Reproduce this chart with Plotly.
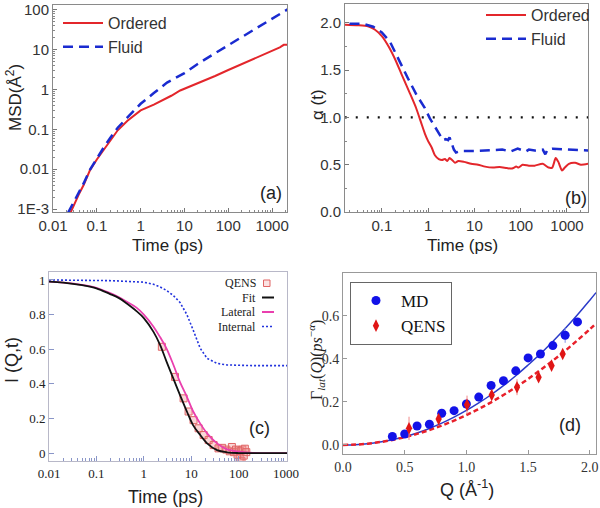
import plotly.graph_objects as go

W, H = 600, 508

# ---------------- Panel (a): MSD vs time ----------------
t_ord_a = [0.025, 0.03, 0.04, 0.05, 0.07, 0.1, 0.15, 0.2, 0.3, 0.5, 0.7, 1, 2, 3, 5, 8,
           10, 20, 50, 100, 190, 500, 1000, 1500, 1850, 2300]
msd_ord = [0.0008, 0.0013, 0.0025, 0.004, 0.0095, 0.0175, 0.033, 0.051, 0.095, 0.165, 0.22,
           0.3, 0.42, 0.52, 0.7, 0.95, 1.05, 1.45, 2.2, 3.1, 4.2, 6.8, 9.3, 11.5, 13.3, 13.4]
t_flu_a = [0.022, 0.03, 0.04, 0.05, 0.07, 0.1, 0.15, 0.2, 0.3, 0.5, 0.7, 1, 2, 4, 10, 20,
           50, 100, 200, 500, 1000, 2000, 2300]
msd_flu = [0.0008, 0.0015, 0.0028, 0.0044, 0.0098, 0.019, 0.038, 0.06, 0.11, 0.2, 0.3, 0.44,
           0.82, 1.5, 2.6, 4.4, 8.2, 13, 20, 37, 58, 92, 105]

# ---------------- Panel (b): alpha(t) ----------------
t_ord_b = [0.016, 0.03, 0.05, 0.07, 0.1, 0.14, 0.2, 0.27, 0.4, 0.55, 0.7, 0.85, 1.0, 1.2,
           1.4, 1.7, 2.0, 2.3, 2.6, 2.9, 3.3, 3.8, 4.5, 6, 8.5, 12, 17, 25, 35, 50, 65, 80,
           90, 110, 150, 200, 300, 400, 480, 570, 650, 780, 900, 1100, 1500, 2000, 2900]
a_ord = [1.98, 1.975, 1.965, 1.93, 1.86, 1.75, 1.6, 1.45, 1.26, 1.1, 0.95, 0.83, 0.75, 0.68,
         0.6, 0.56, 0.55, 0.56, 0.54, 0.57, 0.55, 0.52, 0.54, 0.53, 0.51, 0.5, 0.48, 0.47,
         0.475, 0.465, 0.46, 0.48, 0.47, 0.5, 0.49, 0.49, 0.51, 0.47, 0.47, 0.57, 0.53, 0.44,
         0.47, 0.51, 0.52, 0.5, 0.51]
t_flu_b = [0.02, 0.04, 0.065, 0.1, 0.15, 0.24, 0.37, 0.56, 0.85, 1.09, 1.4, 1.64, 2.1, 2.4,
           2.7, 2.9, 3.2, 3.6, 4.0, 5, 10, 20, 40, 60, 86, 130, 150, 200, 300, 340, 380, 500,
           800, 1500, 2900]
a_flu = [1.99, 1.99, 1.96, 1.9, 1.8, 1.59, 1.41, 1.24, 1.1, 0.99, 0.9, 0.85, 0.76, 0.77,
         0.76, 0.79, 0.74, 0.66, 0.63, 0.645, 0.645, 0.65, 0.66, 0.64, 0.67, 0.64, 0.66, 0.65,
         0.66, 0.61, 0.66, 0.67, 0.665, 0.655, 0.65]
ref_t = [0.0158, 2900]
ref_a = [1.0, 1.0]

# ---------------- Panel (c): I(Q,t) ----------------
t_c = [0.01, 0.02, 0.05, 0.1, 0.19, 0.3, 0.43, 0.7, 1.0, 1.6, 2.2, 3.0, 4.2, 5.8, 8.1, 11,
       15.5, 21.6, 35, 57, 100, 200, 1000, 1050]
fit_c = [0.99, 0.985, 0.97, 0.952, 0.92, 0.895, 0.865, 0.82, 0.78, 0.70, 0.625, 0.53, 0.43,
         0.335, 0.24, 0.16, 0.104, 0.056, 0.017, 0.004, 0.0, 0.0, 0.0, 0.0]
lat_c = [0.99, 0.985, 0.972, 0.955, 0.925, 0.90, 0.875, 0.84, 0.80, 0.73, 0.67, 0.605, 0.51,
         0.41, 0.325, 0.24, 0.17, 0.114, 0.056, 0.021, 0.008, 0.001, 0.0, 0.0]
int_c = [1.0, 1.0, 0.999, 0.998, 0.996, 0.994, 0.992, 0.99, 0.987, 0.975, 0.96, 0.94, 0.91,
         0.87, 0.80, 0.71, 0.605, 0.547, 0.518, 0.509, 0.506, 0.505, 0.505, 0.505]
qens_t = [2.4, 4.55, 6.9, 8.8, 11.2, 14.3, 18.3, 23.3, 29.7, 37.6, 45, 55, 65, 72, 80, 88,
          95, 100, 105, 110, 115, 120, 128, 135, 145]
qens_I = [0.614, 0.44, 0.316, 0.24, 0.19, 0.143, 0.104, 0.075, 0.046, 0.027, 0.03, 0.02,
          0.01, 0.035, 0.005, 0.02, -0.01, 0.015, -0.03, 0.01, -0.045, 0.02, -0.015, 0.025,
          0.005]

# ---------------- Panel (d): Gamma_lat(Q) ----------------
q_md = [0.4, 0.5, 0.6, 0.7, 0.8, 0.9, 1.0, 1.1, 1.2, 1.3, 1.4, 1.5, 1.6, 1.7, 1.8, 1.9]
g_md = [0.039, 0.051, 0.088, 0.096, 0.147, 0.159, 0.19, 0.222, 0.276, 0.298, 0.344, 0.404,
        0.422, 0.461, 0.509, 0.571]
e_md = [0.008, 0.01, 0.006, 0.008, 0.02, 0.008, 0.01, 0.02, 0.01, 0.008, 0.01, 0.008, 0.01,
        0.01, 0.035, 0.01]
q_qe = [0.535, 0.775, 1.005, 1.205, 1.41, 1.585, 1.69, 1.78]
g_qe = [0.077, 0.12, 0.186, 0.232, 0.268, 0.314, 0.368, 0.422]
e_qe = [0.054, 0.02, 0.043, 0.025, 0.037, 0.02, 0.015, 0.015]
q_fit = [0.0, 0.1, 0.2, 0.3, 0.4, 0.5, 0.6, 0.7, 0.8, 0.9, 1.0, 1.1, 1.2, 1.3, 1.4, 1.5, 1.6,
         1.7, 1.8, 1.9, 2.0, 2.05]
g_fit_md = [0.0, 0.0014, 0.0057, 0.0132, 0.024, 0.038, 0.0556, 0.0765, 0.101, 0.129, 0.16,
            0.195, 0.233, 0.275, 0.321, 0.371, 0.423, 0.48, 0.54, 0.604, 0.672, 0.707]
g_fit_qe = [0.0, 0.0016, 0.006, 0.0133, 0.0233, 0.036, 0.0513, 0.0694, 0.09, 0.113, 0.139,
            0.167, 0.198, 0.232, 0.268, 0.306, 0.348, 0.391, 0.437, 0.486, 0.537, 0.564]

RED = "#e3262b"
BLUE = "#1a2bd0"
SANS = "Liberation Sans, Arial, sans-serif"
SERIF = "Liberation Serif, Times New Roman, serif"

fig = go.Figure()

# (a)
fig.add_trace(go.Scatter(x=t_ord_a, y=msd_ord, mode="lines", name="Ordered",
                         line=dict(color=RED, width=2), xaxis="x", yaxis="y", legend="legend"))
fig.add_trace(go.Scatter(x=t_flu_a, y=msd_flu, mode="lines", name="Fluid",
                         line=dict(color=BLUE, width=2.5, dash="10px,6px"),
                         xaxis="x", yaxis="y", legend="legend"))
# (b)
fig.add_trace(go.Scatter(x=ref_t, y=ref_a, mode="lines", showlegend=False,
                         line=dict(color="#111", width=2.2, dash="2px,9px"),
                         xaxis="x2", yaxis="y2"))
fig.add_trace(go.Scatter(x=t_ord_b, y=a_ord, mode="lines", name="Ordered",
                         line=dict(color=RED, width=2, shape="spline", smoothing=0.6),
                         xaxis="x2", yaxis="y2", legend="legend2"))
fig.add_trace(go.Scatter(x=t_flu_b, y=a_flu, mode="lines", name="Fluid",
                         line=dict(color=BLUE, width=2.5, dash="10px,6px"),
                         xaxis="x2", yaxis="y2", legend="legend2"))
# (c)
fig.add_trace(go.Scatter(x=qens_t, y=qens_I, mode="markers", showlegend=False,
                         marker=dict(symbol="square", size=7, color="rgba(240,140,140,0.35)",
                                     line=dict(color="#e06565", width=1)),
                         xaxis="x3", yaxis="y3"))
fig.add_trace(go.Scatter(x=t_c, y=int_c, mode="lines", showlegend=False,
                         line=dict(color="#2233dd", width=1.6, dash="2px,2px"),
                         xaxis="x3", yaxis="y3"))
fig.add_trace(go.Scatter(x=t_c, y=lat_c, mode="lines", showlegend=False,
                         line=dict(color="#ea3fae", width=1.8, shape="spline"),
                         xaxis="x3", yaxis="y3"))
fig.add_trace(go.Scatter(x=t_c, y=fit_c, mode="lines", showlegend=False,
                         line=dict(color="#111111", width=1.8, shape="spline"),
                         xaxis="x3", yaxis="y3"))
# (d)
fig.add_trace(go.Scatter(x=q_fit, y=g_fit_md, mode="lines", showlegend=False,
                         line=dict(color="#2a3ac8", width=1.5, shape="spline"),
                         xaxis="x4", yaxis="y4"))
fig.add_trace(go.Scatter(x=q_fit, y=g_fit_qe, mode="lines", showlegend=False,
                         line=dict(color="#e8202a", width=2.5, dash="5px,3px", shape="spline"),
                         xaxis="x4", yaxis="y4"))
fig.add_trace(go.Scatter(x=q_md, y=g_md, mode="markers", name="MD",
                         marker=dict(symbol="circle", size=9, color="#1212e8"),
                         error_y=dict(type="data", array=e_md, color="#8090e8", thickness=1, width=0),
                         xaxis="x4", yaxis="y4", legend="legend3"))
fig.add_trace(go.Scatter(x=q_qe, y=g_qe, mode="markers", name="QENS",
                         marker=dict(symbol="diamond-tall", size=9, color="#e01515"),
                         error_y=dict(type="data", array=e_qe, color="#f08a8a", thickness=1, width=0),
                         xaxis="x4", yaxis="y4", legend="legend3"))


def dx(a, b):
    return [a / W, b / W]


def dy(top, bottom):
    return [1 - bottom / H, 1 - top / H]


def minor_log(lo, hi):
    return [k * 10 ** e for e in range(lo, hi) for k in range(2, 10)]


ax_common = dict(showline=True, mirror=True, linewidth=1, showgrid=False, zeroline=False,
                 ticks="inside", automargin=False)

fig.update_layout(
    width=W, height=H, margin=dict(l=0, r=0, t=0, b=0, autoexpand=False),
    paper_bgcolor="white", plot_bgcolor="white",
    xaxis=dict(domain=dx(53, 287), type="log", range=[-2, 3.34], anchor="y",
               tickvals=[0.01, 0.1, 1, 10, 100, 1000],
               ticktext=["0.01", "0.1", "1", "10", "100", "1000"],
               linecolor="#8a8a8a", tickcolor="#777", ticklen=4,
               tickfont=dict(family=SANS, size=15, color="#333"),
               minor=dict(tickvals=minor_log(-2, 4), ticks="inside", ticklen=2, tickcolor="#888"),
               **ax_common),
    yaxis=dict(domain=dy(5, 212), type="log", range=[-3.075, 2.125], anchor="x",
               tickvals=[0.001, 0.01, 0.1, 1, 10, 100],
               ticktext=["1E-3", "0.01", "0.1", "1", "10", "100"],
               linecolor="#8a8a8a", tickcolor="#777", ticklen=4,
               tickfont=dict(family=SANS, size=15, color="#333"),
               minor=dict(tickvals=minor_log(-3, 3), ticks="inside", ticklen=2, tickcolor="#888"),
               **ax_common),
    xaxis2=dict(domain=dx(345, 588), type="log", range=[-1.796, 3.454], anchor="y2",
                tickvals=[0.1, 1, 10, 100, 1000],
                ticktext=["0.1", "1", "10", "100", "1000"],
                linecolor="#8a8a8a", tickcolor="#777", ticklen=4,
                tickfont=dict(family=SANS, size=15, color="#333"),
                minor=dict(tickvals=minor_log(-2, 4), ticks="inside", ticklen=2, tickcolor="#888"),
                **ax_common),
    yaxis2=dict(domain=dy(4, 212), range=[0, 2.2], anchor="x2",
                tickvals=[0.0, 0.5, 1.0, 1.5, 2.0], tickformat=".1f",
                linecolor="#8a8a8a", tickcolor="#777", ticklen=4,
                tickfont=dict(family=SANS, size=15, color="#333"),
                minor=dict(dtick=0.25, ticks="inside", ticklen=2, tickcolor="#888"),
                **ax_common),
    xaxis3=dict(domain=dx(49, 287), type="log", range=[-2, 3.02], anchor="y3",
                tickvals=[0.01, 0.1, 1, 10, 100, 1000],
                ticktext=["0.01", "0.1", "1", "10", "100", "1000"],
                linecolor="#b8b8c8", tickcolor="#8a96c8", ticklen=5,
                tickfont=dict(family=SERIF, size=13, color="#222"),
                minor=dict(tickvals=minor_log(-2, 4), ticks="inside", ticklen=3, tickcolor="#8a96c8"),
                **ax_common),
    yaxis3=dict(domain=dy(272, 461), range=[-0.046, 1.046], anchor="x3",
                tickvals=[0, 0.2, 0.4, 0.6, 0.8, 1],
                linecolor="#b8b8c8", tickcolor="#8a96c8", ticklen=5,
                tickfont=dict(family=SERIF, size=13, color="#222"),
                **ax_common),
    xaxis4=dict(domain=dx(343, 596), range=[0, 2.05], anchor="y4",
                tickvals=[0.0, 0.5, 1.0, 1.5, 2.0], tickformat=".1f",
                linecolor="#999", tickcolor="#999", ticklen=4,
                tickfont=dict(family=SERIF, size=14, color="#333"),
                **ax_common),
    yaxis4=dict(domain=dy(273, 454), range=[-0.042, 0.798], anchor="x4",
                tickvals=[0.0, 0.2, 0.4, 0.6], tickformat=".1f",
                linecolor="#999", tickcolor="#999", ticklen=4,
                tickfont=dict(family=SERIF, size=14, color="#333"),
                **ax_common),
    legend=dict(x=58 / W, y=1 - 6 / H, xanchor="left", yanchor="top",
                bgcolor="rgba(0,0,0,0)", font=dict(family=SANS, size=16, color="#333"),
                itemwidth=40, tracegroupgap=0),
    legend2=dict(x=481 / W, y=1 + 2 / H, xanchor="left", yanchor="top",
                 bgcolor="rgba(0,0,0,0)", font=dict(family=SANS, size=16, color="#333"),
                 itemwidth=40, tracegroupgap=0),
    legend3=dict(x=350 / W, y=1 - 282 / H, xanchor="left", yanchor="top",
                 bgcolor="white", bordercolor="#666", borderwidth=1,
                 font=dict(family=SERIF, size=17, color="#111"),
                 itemwidth=40, tracegroupgap=0),
    showlegend=True,
)


def ann(text, xpx, ypx, size=17, family=SANS, angle=0, color="#222", xanchor="center"):
    fig.add_annotation(text=text, x=xpx / W, y=1 - ypx / H, xref="paper", yref="paper",
                       showarrow=False, textangle=angle, xanchor=xanchor, yanchor="middle",
                       borderpad=0, font=dict(family=family, size=size, color=color))


# axis titles
ann("MSD(Å<sup>2</sup>)", 14, 98, size=17, angle=-90)
ann("Time (ps)", 167, 245, size=17)
ann("α (t)", 318, 105, size=17, angle=-90)
ann("Time (ps)", 463, 245, size=17)
ann("I (Q,t)", 12, 360, size=18, angle=-90)
ann("Time (ps)", 165, 497, size=18)
ann("Γ<sub><i>lat</i></sub>(<i>Q</i>)(<i>ps</i><sup>−<i>α</i></sup>)", 316, 360,
    size=16, family=SERIF, angle=-90)
ann("Q (Å<sup>-1</sup>)", 467, 488, size=18)

# panel labels
ann("(a)", 271, 193, size=18)
ann("(b)", 576, 198, size=18)
ann("(c)", 259, 428, size=18)
ann("(d)", 570, 425, size=18)

# panel (c) legend: text right-aligned, samples on the right
leg_c = [("QENS", 283), ("Fit", 297.5), ("Lateral", 312), ("Internal", 326.5)]
for label, ypx in leg_c:
    ann(label, 257, ypx, size=12, family=SERIF, color="#222", xanchor="right")

fig.add_shape(type="rect", xref="paper", yref="paper",
              x0=263.5 / W, x1=270 / W, y0=1 - 286.5 / H, y1=1 - 280 / H,
              line=dict(color="#e06565", width=1), fillcolor="rgba(240,140,140,0.25)")
for (ypx, col, dash, wd) in [(297.5, "#111111", "solid", 2), (312, "#ea3fae", "solid", 2),
                             (326.5, "#2233dd", "2px,2px", 1.6)]:
    fig.add_shape(type="line", xref="paper", yref="paper",
                  x0=262 / W, x1=274 / W, y0=1 - ypx / H, y1=1 - ypx / H,
                  line=dict(color=col, width=wd, dash=dash))

fig.write_html("out.html")
